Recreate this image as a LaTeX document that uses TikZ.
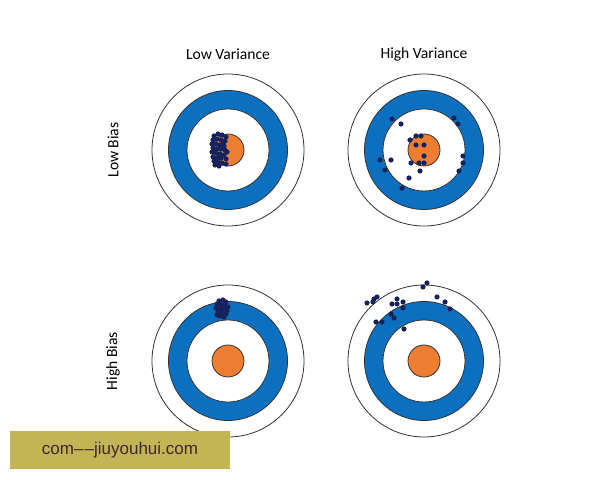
\documentclass[tikz,border=0pt]{standalone}
\usepackage{fontspec}
\setmainfont{Carlito}
\newfontfamily\wmfont{Liberation Sans}
\definecolor{ringblue}{RGB}{12,112,192}
\definecolor{bullorange}{RGB}{237,125,49}
\definecolor{hitblue}{RGB}{22,34,92}
\definecolor{wmbox}{RGB}{195,181,86}
\definecolor{wmtext}{RGB}{62,40,40}
\begin{document}
\begin{tikzpicture}[x=0.5pt, y=-0.5pt, every node/.style={font=\fontsize{7.8}{9}\selectfont},
    ring/.style={draw=black!80, line width=0.4pt},
    hit/.style={fill=hitblue}]
    \useasboundingbox (0,0) rectangle (600,480);
    % targets
    \foreach \cx/\cy in {228/150,424/150,228/361,424/361}{
        \draw[ring, fill=white] (\cx,\cy) circle[radius=38pt];
        \draw[ring, fill=ringblue] (\cx,\cy) circle[radius=29.75pt];
        \draw[ring, fill=white] (\cx,\cy) circle[radius=20.5pt];
        \draw[ring, fill=bullorange] (\cx,\cy) circle[radius=8pt];
    }
    % labels
    \node (lowvar) at (228,54) {Low Variance};
    \node (highvar) at (424,54) {High Variance};
    \node[rotate=90] (lowbias) at (113,150) {Low Bias};
    \node[rotate=90] (highbias) at (113,361) {High Bias};
    % low bias, low variance
    \foreach \x/\y in {214/136,218/134,222/135,226/137,213/140,217/139,221/140,225/141,212/144,216/144,
        220/145,224/146,213/148,217/149,221/149,225/150,212/152,216/153,220/154,224/155,213/157,217/158,
        221/158,226/159,214/161,218/162,222/163,226/164,219/166,215/165,223/144,227/152,215/151,219/157}
        \fill[hit] (\x,\y) circle[radius=1.3pt];
    % low bias, high variance
    \foreach \x/\y in {392/119,401/124,454/118,458/124,416/136,421/136,410/140,416/145,424/145,424/156,
        380/160,391/160,411/163,419/163,424/163,385/170,420/171,463/156,463/163,459/171,409/178,402/188}
        \fill[hit] (\x,\y) circle[radius=1.3pt];
    % high bias, low variance
    \foreach \x/\y in {219/301,223/300,226/302,217/304,221/305,225/305,228/307,216/308,220/309,224/309,
        227/311,218/312,222/313,226/314,220/316,224/317,217/315}
        \fill[hit] (\x,\y) circle[radius=1.3pt];
    % high bias, high variance
    \foreach \x/\y in {423/287,427/283,367/303,373/302,374/299,377/297,392/304,397/299,397/304,403/302,
        403/308,391/314,394/318,376/322,382/322,437/297,445/302,450/309,404/329}
        \fill[hit] (\x,\y) circle[radius=1.3pt];
    % watermark
    \node[fill=wmbox, minimum width=110pt, minimum height=19pt, inner sep=0pt,
        font=\wmfont\fontsize{8.5}{10}\selectfont, text=wmtext] (wm) at (120,450) {com–\kern0.6pt–jiuyouhui.com};
\end{tikzpicture}
\end{document}
